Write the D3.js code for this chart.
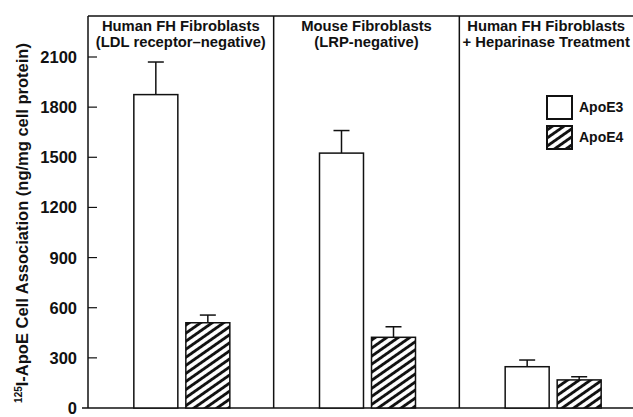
<!DOCTYPE html>
<html lang="en">
<head>
  <meta charset="UTF-8">
  <title>ApoE cell association</title>
  <script src="https://d3js.org/d3.v7.min.js"></script>
  <style>
    body {
      margin: 0;
      background: #fff;
    }
    svg {
      display: block;
      font-family: 'Liberation Sans', Arial, sans-serif;
      font-weight: bold;
    }
  </style>
</head>
<body>
  <svg width="633" height="417"></svg>

  <script>
    // data
    const panels = ["FH", "Mouse", "Heparinase"];
    const panelTitles = [
      ["Human FH Fibroblasts", "(LDL receptor\u2013negative)"],
      ["Mouse Fibroblasts", "(LRP-negative)"],
      ["Human FH Fibroblasts", "+ Heparinase Treatment"]
    ];
    const series = ["ApoE3", "ApoE4"];
    const apoE3Values = [1875, 1525, 247];
    const apoE3Errors = [195, 135, 40];
    const apoE4Values = [510, 423, 168];
    const apoE4Errors = [46, 63, 19];
    const yTicks = [0, 300, 600, 900, 1200, 1500, 1800, 2100];

    const svg = d3.select("svg");
    const W = 633;

    // plot frame (right edge runs past the cropped picture)
    const frame = { left: 88, top: 16, bottom: 408, right: 645 };

    const y = d3.scaleLinear().domain([0, 2100]).range([frame.bottom, 57]);
    const x0 = d3.scaleBand().domain(panels).range([frame.left, frame.right]);
    const x1 = d3.scaleBand().domain(series).range([0, 96]).paddingInner(0.154);
    const groupOffset = (x0.bandwidth() - 96) / 2 + 1;

    // hatch pattern for ApoE4
    const defs = svg.append("defs");
    const pat = defs.append("pattern")
      .attr("id", "hatch")
      .attr("patternUnits", "userSpaceOnUse")
      .attr("width", 6.6)
      .attr("height", 6.6)
      .attr("patternTransform", "rotate(-35)");
    pat.append("rect").attr("width", 6.6).attr("height", 6.6).attr("fill", "#fff");
    pat.append("line")
      .attr("x1", 0).attr("x2", 6.6)
      .attr("y1", 3.3).attr("y2", 3.3)
      .attr("stroke", "#111")
      .attr("stroke-width", 2.9);

    const fills = { ApoE3: "#fff", ApoE4: "url(#hatch)" };

    // frame: left axis, top line, panel dividers, baseline
    svg.append("line")
      .attr("x1", frame.left).attr("x2", frame.left)
      .attr("y1", frame.top).attr("y2", frame.bottom)
      .attr("stroke", "#111").attr("stroke-width", 1.5);
    svg.append("line")
      .attr("x1", frame.left).attr("x2", W)
      .attr("y1", frame.top).attr("y2", frame.top)
      .attr("stroke", "#111").attr("stroke-width", 1.5);
    svg.append("line")
      .attr("x1", 82).attr("x2", W)
      .attr("y1", frame.bottom).attr("y2", frame.bottom)
      .attr("stroke", "#111").attr("stroke-width", 1.5);
    svg.selectAll(".divider")
      .data(panels.slice(1))
      .join("line")
      .attr("class", "divider")
      .attr("x1", d => x0(d)).attr("x2", d => x0(d))
      .attr("y1", frame.top).attr("y2", frame.bottom)
      .attr("stroke", "#111").attr("stroke-width", 1.5);

    // y axis ticks (pointing inward) and labels
    const yAxis = svg.append("g");
    yAxis.selectAll("line")
      .data(yTicks.filter(d => d > 0))
      .join("line")
      .attr("x1", frame.left).attr("x2", frame.left + 9)
      .attr("y1", d => y(d)).attr("y2", d => y(d))
      .attr("stroke", "#111").attr("stroke-width", 1.2);
    yAxis.selectAll("text")
      .data(yTicks)
      .join("text")
      .attr("x", 77)
      .attr("y", d => y(d) + 6)
      .attr("text-anchor", "end")
      .attr("font-size", 16.5)
      .attr("fill", "#111")
      .text(d => d);

    // y axis title with superscript
    const yTitle = svg.append("text")
      .attr("transform", "translate(28,223) rotate(-90)")
      .attr("text-anchor", "middle")
      .attr("font-size", 16.5)
      .attr("fill", "#111");
    yTitle.append("tspan")
      .attr("font-size", 10)
      .attr("dy", -6)
      .text("125");
    yTitle.append("tspan")
      .attr("dy", 6)
      .text("I-ApoE Cell Association (ng/mg cell protein)");

    // panel headers, centred on the visible part of each panel
    svg.selectAll(".header")
      .data(panels)
      .join("text")
      .attr("class", "header")
      .attr("text-anchor", "middle")
      .attr("font-size", 14.8)
      .attr("fill", "#111")
      .each(function (d, i) {
        const cx = (x0(d) + Math.min(x0(d) + x0.bandwidth(), W)) / 2;
        d3.select(this).selectAll("tspan")
          .data(panelTitles[i])
          .join("tspan")
          .attr("x", cx)
          .attr("y", (t, j) => 31 + j * 16)
          .text(t => t);
      });

    // bars
    const rows = [];
    panels.forEach((p, i) => {
      rows.push({ panel: p, key: "ApoE3", value: apoE3Values[i], err: apoE3Errors[i] });
      rows.push({ panel: p, key: "ApoE4", value: apoE4Values[i], err: apoE4Errors[i] });
    });
    const bx = d => x0(d.panel) + groupOffset + x1(d.key);

    // error bars
    const eb = svg.append("g").attr("stroke", "#111").attr("stroke-width", 1.5);
    eb.selectAll(".stem")
      .data(rows)
      .join("line")
      .attr("class", "stem")
      .attr("x1", d => bx(d) + x1.bandwidth() / 2)
      .attr("x2", d => bx(d) + x1.bandwidth() / 2)
      .attr("y1", d => y(d.value))
      .attr("y2", d => y(d.value + d.err));
    eb.selectAll(".cap")
      .data(rows)
      .join("line")
      .attr("class", "cap")
      .attr("x1", d => bx(d) + x1.bandwidth() / 2 - 8)
      .attr("x2", d => bx(d) + x1.bandwidth() / 2 + 8)
      .attr("y1", d => y(d.value + d.err))
      .attr("y2", d => y(d.value + d.err));

    svg.selectAll(".bar")
      .data(rows)
      .join("rect")
      .attr("class", "bar")
      .attr("x", bx)
      .attr("width", x1.bandwidth())
      .attr("y", d => y(d.value))
      .attr("height", d => y(0) - y(d.value))
      .attr("fill", d => fills[d.key])
      .attr("stroke", "#111")
      .attr("stroke-width", 1.5);

    // legend
    const legend = svg.append("g").attr("transform", "translate(547,96)");
    const lg = legend.selectAll("g")
      .data(series)
      .join("g")
      .attr("transform", (d, i) => `translate(0,${i * 30})`);
    lg.append("rect")
      .attr("width", 25).attr("height", 23)
      .attr("fill", d => fills[d])
      .attr("stroke", "#111").attr("stroke-width", 2);
    lg.append("text")
      .attr("x", 32).attr("y", 16)
      .attr("font-size", 14)
      .attr("fill", "#111")
      .text(d => d);
  </script>
</body>
</html>
